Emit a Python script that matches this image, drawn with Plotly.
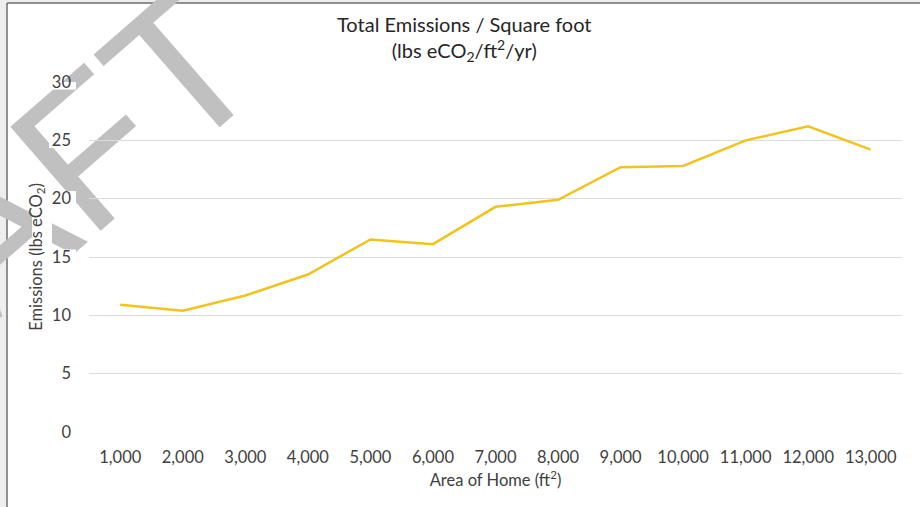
import plotly.graph_objects as go

# Home size categories and emissions per square foot
areas = ["1,000", "2,000", "3,000", "4,000", "5,000", "6,000", "7,000",
         "8,000", "9,000", "10,000", "11,000", "12,000", "13,000"]
emissions = [10.9, 10.4, 11.7, 13.5, 16.5, 16.1, 19.3, 19.9, 22.7, 22.8, 25.0, 26.2, 24.2]
y_ticks = [0, 5, 10, 15, 20, 25, 30]

W, H = 920, 507
ML, MR, MT, MB = 89, 18, 82, 75
PW, PH = W - ML - MR, H - MT - MB


def px_x(p):
    return (p - ML) / PW


def px_y(p):
    return (H - MB - p) / PH


FONT = "Lato, Carlito, 'Open Sans', sans-serif"
TXT = "#404040"

fig = go.Figure()
fig.add_trace(go.Scatter(
    x=areas, y=emissions, mode="lines",
    line=dict(color="#F2C31C", width=2.5),
    hoverinfo="x+y",
))

shapes = [
    # light gray surround outside the frame
    dict(type="rect", xref="paper", yref="paper", x0=px_x(0), x1=px_x(7),
         y0=px_y(H), y1=px_y(0), fillcolor="#eeeeee", line_width=0, layer="below"),
    dict(type="rect", xref="paper", yref="paper", x0=px_x(0), x1=px_x(W),
         y0=px_y(3), y1=px_y(0), fillcolor="#eeeeee", line_width=0, layer="below"),
    # frame edges
    dict(type="line", xref="paper", yref="paper", x0=px_x(7), x1=px_x(7),
         y0=px_y(H), y1=px_y(3), line=dict(color="#6e6e6e", width=1.5), layer="below"),
    dict(type="line", xref="paper", yref="paper", x0=px_x(7), x1=px_x(W),
         y0=px_y(3), y1=px_y(3), line=dict(color="#6e6e6e", width=1.5), layer="below"),
    # watermark, kept underneath the chart text
    dict(type="rect", xref="paper", yref="paper",
         x0=px_x(-40), x1=px_x(-34), y0=px_y(236), y1=px_y(230),
         line_width=0, fillcolor="rgba(0,0,0,0)", layer="below",
         label=dict(text="DRAFT", textangle=-41, textposition="middle center",
                    font=dict(family="Liberation Sans, Arial, sans-serif",
                              size=200, color="#c0c0c0"))),
    # white backing box behind the y-axis title
    dict(type="rect", xref="paper", yref="paper", x0=px_x(32), x1=px_x(52),
         y0=px_y(336), y1=px_y(180), fillcolor="white", line_width=0, layer="below"),
]
# white backing boxes behind the y tick labels
for v in y_ticks:
    shapes.append(dict(type="rect", xref="paper", yref="y", x0=px_x(49), x1=px_x(76),
                       y0=v - 0.65, y1=v + 0.65, fillcolor="white", line_width=0,
                       layer="below"))

annotations = [
    dict(text="Total Emissions / Square foot<br>(lbs eCO<sub>2</sub>/ft<sup>2</sup>/yr)",
         xref="paper", yref="paper", x=px_x(464), y=px_y(10), xanchor="center", yanchor="top",
         showarrow=False, font=dict(family=FONT, size=20, color="#262626")),
]

fig.update_layout(
    width=W, height=H,
    margin=dict(l=ML, r=MR, t=MT, b=MB),
    paper_bgcolor="white", plot_bgcolor="rgba(0,0,0,0)",
    showlegend=False,
    font=dict(family=FONT, size=16, color=TXT),
    shapes=shapes, annotations=annotations,
    xaxis=dict(
        type="category", range=[-0.5, len(areas) - 0.5],
        showgrid=False, zeroline=False, showline=False,
        ticks="", ticklabelstandoff=13,
        tickfont=dict(family=FONT, size=16.5, color=TXT),
        title=dict(text="Area of Home (ft<sup>2</sup>)", standoff=8,
                   font=dict(family=FONT, size=16.5, color=TXT)),
    ),
    yaxis=dict(
        range=[0, 30], tickvals=y_ticks, showgrid=True, gridcolor="#dcdcdc", gridwidth=1,
        zeroline=False, showline=False, ticks="", ticklabelstandoff=17,
        tickfont=dict(family=FONT, size=16.5, color=TXT),
        title=dict(text="Emissions (lbs eCO<sub>2</sub>)", standoff=5,
                   font=dict(family=FONT, size=16.5, color=TXT)),
    ),
)

fig.write_html("out.html")
